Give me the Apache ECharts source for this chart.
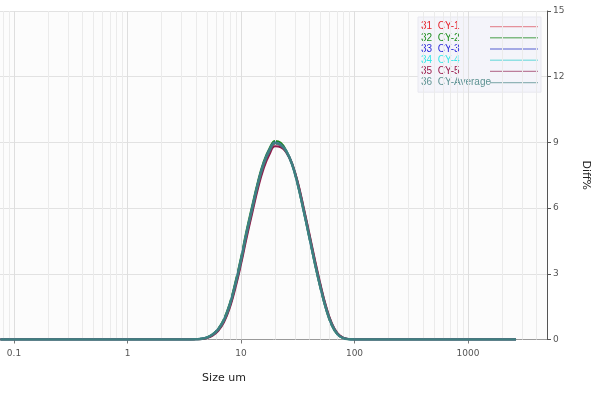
<!DOCTYPE html>
<html>
<head>
<meta charset="utf-8">
<script src="https://cdn.jsdelivr.net/npm/echarts@6/dist/echarts.min.js"></script>
<style>html,body{margin:0;padding:0;background:#fff}#c{width:599px;height:394px}</style>
</head>
<body>
<div id="c"></div>
<script>
// Particle sizes (um)
const sizes = [0.076, 3.55, 3.98, 4.47, 5.01, 5.62, 6.31, 7.08, 7.94, 8.91, 10.0, 11.2, 12.6, 14.1, 15.8, 17.8, 20.0, 22.4, 25.1, 28.2, 31.6, 35.5, 39.8, 44.7, 50.1, 56.2, 63.1, 70.8, 79.4, 89.1, 100, 112, 2650];
// Diff% per sample
const cy1 = [0,0,0.008,0.025,0.08,0.20,0.43,0.83,1.48,2.41,3.52,4.74,5.91,7.00,7.91,8.56,8.93,8.86,8.58,8.04,7.17,6.03,4.84,3.61,2.48,1.48,0.72,0.27,0.08,0.018,0.004,0,0];
const cy2 = [0,0,0.01,0.035,0.10,0.24,0.50,0.94,1.63,2.61,3.75,4.99,6.15,7.22,8.10,8.72,9.06,8.98,8.62,8.00,7.07,5.90,4.69,3.46,2.34,1.37,0.64,0.23,0.06,0.012,0.002,0,0];
const cy3 = [0,0,0.01,0.03,0.09,0.22,0.47,0.89,1.57,2.52,3.65,4.88,6.05,7.13,8.03,8.66,9.00,8.90,8.60,8.01,7.10,5.94,4.74,3.51,2.39,1.41,0.67,0.25,0.07,0.015,0.003,0,0];
const cy4 = [0,0,0.01,0.03,0.09,0.22,0.46,0.88,1.55,2.49,3.61,4.84,6.01,7.09,7.99,8.62,8.97,8.88,8.59,8.00,7.11,5.96,4.76,3.53,2.41,1.43,0.68,0.25,0.07,0.015,0.003,0,0];
const cy5 = [0,0,0.007,0.02,0.07,0.18,0.40,0.79,1.42,2.33,3.43,4.63,5.80,6.88,7.79,8.45,8.82,8.78,8.53,8.02,7.20,6.08,4.90,3.67,2.53,1.52,0.75,0.29,0.09,0.02,0.004,0,0];
const cyAvg = [0,0,0.01,0.03,0.09,0.22,0.46,0.88,1.55,2.50,3.62,4.85,6.02,7.10,8.00,8.62,8.97,8.88,8.58,8.00,7.10,5.95,4.75,3.52,2.40,1.42,0.68,0.25,0.07,0.015,0.003,0,0];
const seriesNames = ['31  CY-1', '32  CY-2', '33  CY-3', '34  CY-4', '35  CY-5', '36  CY-Average'];
const xTickLabels = [0.1, 1, 10, 100, 1000];
const yTicks = [0, 3, 6, 9, 12, 15];

const xMin = 0.0753, xMax = 4966;
const lineColors = ['#d8404c', '#1f8a1f', '#3340c8', '#40d0d0', '#8e1c4c', '#3f7f80'];
const textColors = ['#e5232b', '#1f8f1f', '#2a2ad8', '#38e6e6', '#9a1b4b', '#5e9393'];
const allVals = [cy1, cy2, cy3, cy4, cy5, cyAvg];

// vertical log grid lines (minor: 2..9 x 10^n, major: decades)
const minorVals = [], majorVals = [];
for (let n = -2; n <= 3; n++) {
  for (let k = 1; k <= 9; k++) {
    const v = +(k * Math.pow(10, n)).toPrecision(3);
    if (v > xMin && v < xMax) (k === 1 ? majorVals : minorVals).push(v);
  }
}

const series = [{
  type: 'line', z: 1, silent: true, symbol: 'none',
  data: [[1, 0]], lineStyle: { opacity: 0 },
  markLine: {
    silent: true, symbol: ['none', 'none'], label: { show: false },
    animation: false, emphasis: { disabled: true },
    lineStyle: { type: 'solid', color: '#ebebeb', width: 1 },
    data: minorVals.map(v => ({ xAxis: v })).concat(
      majorVals.map(v => ({ xAxis: v, lineStyle: { type: 'solid', color: '#dedede', width: 1 } })))
  }
}];
allVals.forEach((vals, i) => {
  series.push({
    name: seriesNames[i], type: 'line', symbol: 'none', smooth: 0.45,
    z: 3 + i,
    data: sizes.map((s, j) => [s, vals[j]]),
    lineStyle: { color: lineColors[i], width: i === 5 ? 2.6 : 2 },
    itemStyle: { color: lineColors[i] },
    animation: false
  });
});

const chart = echarts.init(document.getElementById('c'));
chart.setOption({
  animation: false,
  textStyle: { fontFamily: 'Liberation Sans' },
  grid: { left: 0, right: 52, top: 11, bottom: 54.5, show: true, backgroundColor: '#fcfcfc', borderWidth: 0 },
  legend: {
    orient: 'vertical', left: 418, top: 17, align: 'right',
    padding: [4, 3, 4, 3], itemGap: 0,
    backgroundColor: '#f4f4fa', borderColor: '#e8e8f0', borderWidth: 1,
    icon: 'rect', itemWidth: 48, itemHeight: 1.4,
    itemStyle: { opacity: 0.55 },
    formatter: n => '{t|' + n + '}',
    textStyle: { fontSize: 10, lineHeight: 11.2,
      rich: { t: { width: 64, align: 'left', fontSize: 10, lineHeight: 11.2 } } },
    data: seriesNames.map((n, i) => ({ name: n, textStyle: { color: textColors[i] } }))
  },
  xAxis: {
    type: 'log', min: xMin, max: xMax,
    name: 'Size um', nameLocation: 'middle', nameGap: 33,
    nameTextStyle: { fontSize: 11, color: '#222', padding: [0, 99, 0, 0], fontFamily: 'DejaVu Sans' },
    axisLine: { show: true, lineStyle: { color: '#9a9a9a', width: 1 } },
    axisTick: { show: true, customValues: xTickLabels, length: 4, lineStyle: { color: '#777' } },
    axisLabel: { customValues: xTickLabels, fontSize: 9, color: '#555', margin: 10, fontFamily: 'DejaVu Sans',
      formatter: v => String(v) },
    splitLine: { show: false },
    minorTick: { show: false }, minorSplitLine: { show: false }
  },
  yAxis: {
    type: 'value', position: 'right', min: 0, max: 15, interval: 3,
    name: 'Diff%', nameLocation: 'middle', nameGap: 33, nameRotate: -90,
    nameTextStyle: { fontSize: 11, color: '#222', fontFamily: 'DejaVu Sans' },
    axisLine: { show: true, lineStyle: { color: '#555', width: 1 } },
    axisTick: { show: true, length: 4, lineStyle: { color: '#555' } },
    axisLabel: { fontSize: 9, color: '#555', margin: 6, fontFamily: 'DejaVu Sans',
      formatter: v => (yTicks.indexOf(v) >= 0 ? String(v) : '') },
    splitLine: { show: true, lineStyle: { color: '#e2e2e2', width: 1 } }
  },
  series: series
});
</script>
</body>
</html>
